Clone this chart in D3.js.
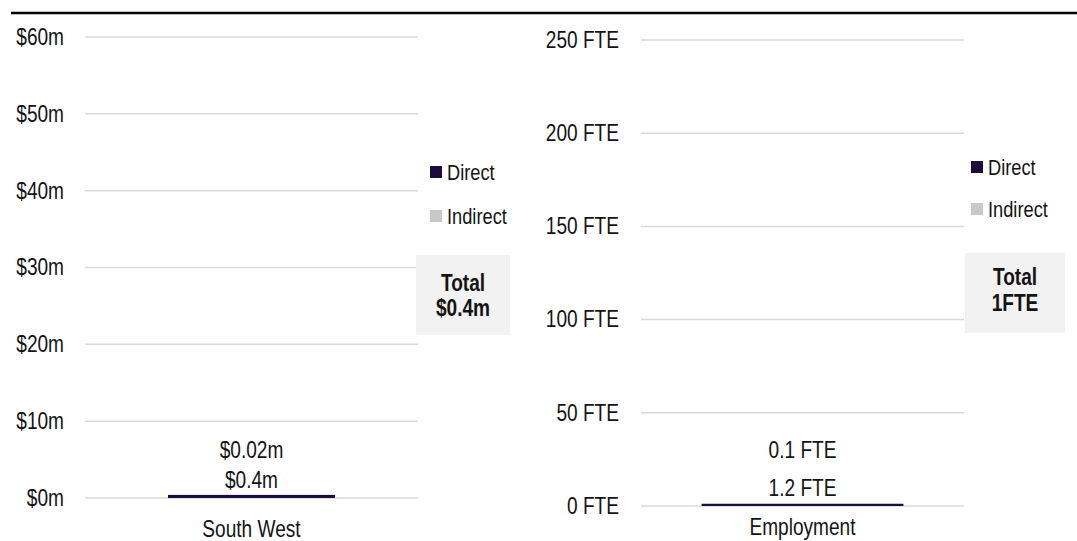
<!DOCTYPE html>
<html>
<head>
<meta charset="utf-8">
<script src="https://cdn.jsdelivr.net/npm/d3@7/dist/d3.min.js"></script>
<style>
  html, body { margin: 0; padding: 0; background: #ffffff; }
  svg { display: block; }
  text { font-family: "Liberation Sans", Arial, sans-serif; fill: #141414; }
</style>
</head>
<body>
<svg id="chart" width="1077" height="541"></svg>
<script>
// Economic contribution (GVA) by region
const regions = ["South West"];
const gvaDirect = [0.4];
const gvaIndirect = [0.02];
const gvaTicks = [0, 10, 20, 30, 40, 50, 60];

// Employment contribution
const empCategories = ["Employment"];
const empDirect = [1.2];
const empIndirect = [0.1];
const empTicks = [0, 50, 100, 150, 200, 250];

const seriesNames = ["Direct", "Indirect"];
const colors = { Direct: "#1d0b3d", Indirect: "#c8c8c8" };

// condensed lettering: regular sans squeezed horizontally
const SQUEEZE = 0.83;
const FONT = 23;

const svg = d3.select("#chart");

function label(parent, x, y, str, size, anchor, bold) {
  return parent.append("text")
    .attr("transform", `translate(${x},${y}) scale(${SQUEEZE},1)`)
    .attr("text-anchor", anchor || "middle")
    .attr("dy", "0.35em")
    .style("font-size", size + "px")
    .style("font-weight", bold ? "bold" : "normal")
    .text(str);
}

// rule across the top
svg.append("line")
  .attr("x1", 11).attr("x2", 1077).attr("y1", 13).attr("y2", 13)
  .attr("stroke", "#000").attr("stroke-width", 2.5);

function panel(cfg) {
  const g = svg.append("g");
  const y = d3.scaleLinear().domain(cfg.domain).range([cfg.bottom, cfg.top]);
  const x = d3.scaleBand().domain(cfg.categories).range([cfg.left, cfg.right])
    .paddingInner(0).paddingOuter(cfg.pad);

  // gridlines
  g.append("g").selectAll("line").data(cfg.ticks).join("line")
    .attr("x1", cfg.left).attr("x2", cfg.right)
    .attr("y1", d => y(d)).attr("y2", d => y(d))
    .attr("stroke", "#d9d9d9").attr("stroke-width", 1.5);

  // y axis labels
  const axis = d3.axisLeft(y).tickValues(cfg.ticks).tickFormat(cfg.tickFormat).tickSize(0).tickPadding(0);
  const ag = g.append("g").attr("transform", `translate(${cfg.labelX},0)`).call(axis);
  ag.select(".domain").remove();
  ag.selectAll("text")
    .attr("transform", `scale(${SQUEEZE},1)`)
    .style("font-size", FONT + "px").attr("fill", "#141414")
    .style("font-family", '"Liberation Sans", Arial, sans-serif');

  // stacked bars
  const rows = cfg.categories.map((c, i) => ({ cat: c, Direct: cfg.direct[i], Indirect: cfg.indirect[i] }));
  const stacked = d3.stack().keys(seriesNames)(rows);
  g.append("g").selectAll("g").data(stacked).join("g")
    .attr("fill", s => colors[s.key])
    .selectAll("rect").data(s => s.map(p => ({ p, cat: p.data.cat }))).join("rect")
    .attr("x", d => x(d.cat)).attr("width", x.bandwidth())
    .attr("y", d => y(d.p[1])).attr("height", d => Math.max(0, y(d.p[0]) - y(d.p[1])));

  // value labels
  rows.forEach(r => {
    const cx = x(r.cat) + x.bandwidth() / 2;
    const top = y(r.Direct + r.Indirect);
    label(g, cx, top - cfg.directGap, cfg.valueFormat(r.Direct), FONT);
    label(g, cx, top - cfg.directGap - cfg.indirectGap, cfg.valueFormat(r.Indirect), FONT);
    label(g, cx, cfg.bottom + cfg.catGap, r.cat, FONT);
  });

  // legend
  const lg = g.append("g").attr("transform", `translate(${cfg.legendX},${cfg.legendY})`);
  seriesNames.forEach((s, i) => {
    lg.append("rect").attr("x", 0).attr("y", i * cfg.legendStep - 6).attr("width", 12).attr("height", 12)
      .attr("fill", colors[s]);
    label(lg, 17, i * cfg.legendStep, s, 22, "start");
  });

  // total box
  const total = d3.sum(cfg.direct) + d3.sum(cfg.indirect);
  const bx = cfg.boxX, by = cfg.boxY;
  g.append("rect").attr("x", bx).attr("y", by).attr("width", cfg.boxW).attr("height", cfg.boxH)
    .attr("fill", "#f2f2f2");
  label(g, bx + cfg.boxW / 2, by + cfg.line1, "Total", 23, "middle", true);
  label(g, bx + cfg.boxW / 2, by + cfg.line2, cfg.totalFormat(total), 23, "middle", true);
}

panel({
  categories: regions, direct: gvaDirect, indirect: gvaIndirect, ticks: gvaTicks,
  domain: [0, 60], top: 37, bottom: 498, left: 85, right: 418, pad: 0.497, labelX: 64,
  tickFormat: d => `$${d}m`, valueFormat: v => `$${v}m`,
  totalFormat: t => `$${t.toFixed(1)}m`,
  directGap: 15, indirectGap: 30, catGap: 31,
  legendX: 430, legendY: 172, legendStep: 44,
  boxX: 416, boxY: 255, boxW: 94, boxH: 80, line1: 28, line2: 53
});

panel({
  categories: empCategories, direct: empDirect, indirect: empIndirect, ticks: empTicks,
  domain: [0, 250], top: 40, bottom: 506, left: 641, right: 964, pad: 0.30, labelX: 619,
  tickFormat: d => `${d} FTE`, valueFormat: v => `${v} FTE`,
  totalFormat: t => `${Math.round(t)}FTE`,
  directGap: 16, indirectGap: 38, catGap: 21,
  legendX: 971, legendY: 167, legendStep: 42,
  boxX: 965, boxY: 253, boxW: 100, boxH: 80, line1: 24, line2: 50
});
</script>
</body>
</html>
